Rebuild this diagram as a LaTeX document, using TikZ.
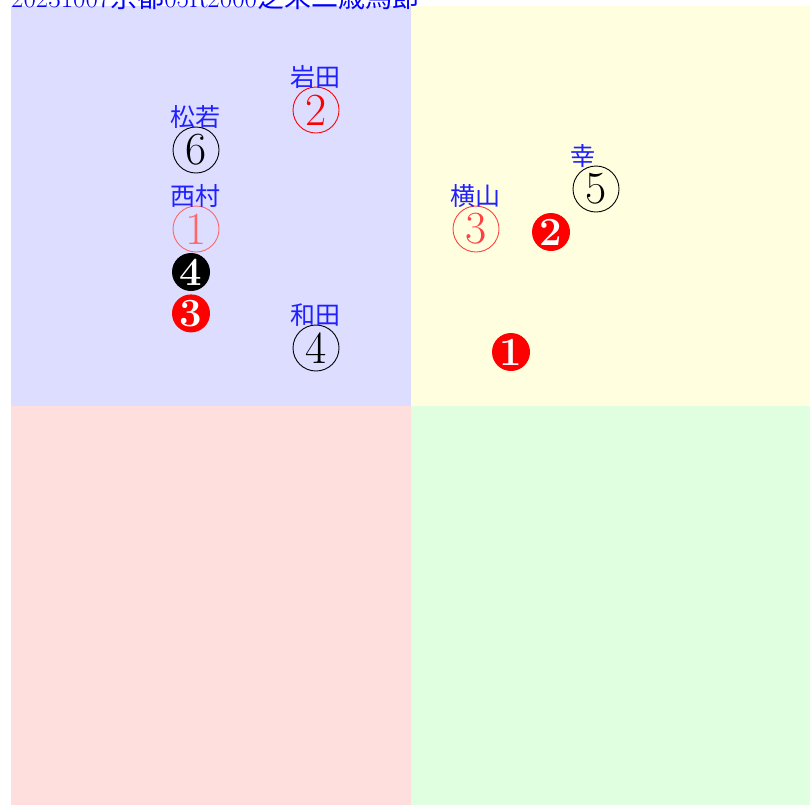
\documentclass[tikz,border=0pt]{standalone}
\usepackage{fontspec}
\newfontfamily\jpfont{Noto Sans CJK JP}
\usepackage{xcolor}
\usepackage{tikz}
\usetikzlibrary{positioning, calc}
\definecolor{quadblue}{HTML}{DDDDFF}
\definecolor{quadyellow}{HTML}{FFFFE0}
\definecolor{quadred}{HTML}{FFDEDE}
\definecolor{quadgreen}{HTML}{E0FFE0}
\definecolor{pinkred}{HTML}{FF6666}
\definecolor{midred}{HTML}{FF4040}
\definecolor{namecolor}{HTML}{2020FF}

\begin{document}
\begin{tikzpicture}[
        x=1pt, y=-1pt,
        ring/.style={
            circle,
            draw=#1,
            text=#1,
            line width=0.9pt,
            minimum size=46pt,
            inner sep=0pt,
            font=\fontsize{46}{46}\selectfont
        },
        disc/.style={
            circle,
            fill=#1,
            text=white,
            minimum size=38pt,
            inner sep=0pt,
            font=\fontsize{40}{40}\selectfont\bfseries
        },
        jockey/.style={anchor=base west, inner sep=0pt, text=namecolor, font=\jpfont\fontsize{25}{25}\selectfont}
    ]
        \useasboundingbox (0,0) rectangle (810,804);

        % Quadrants
        \fill[quadblue] (11,6) rectangle (411,406);
        \fill[quadyellow] (411,6) rectangle (811,406);
        \fill[quadred] (11,406) rectangle (411,806);
        \fill[quadgreen] (411,406) rectangle (811,806);

        % Title
        \node[anchor=base west, inner sep=0pt, text=blue, font=\fontsize{27}{27}\selectfont] (title) at (11,7)
            {20231007{\jpfont 京都}05R2000{\jpfont 芝未二歳馬節}};

        % Horses
        \node[ring=red] (h2) at (316,110) {2};
        \node[ring=black] (h6) at (196,150) {6};
        \node[ring=pinkred] (h1) at (196,229) {1};
        \node[ring=black] (h4) at (316,348) {4};
        \node[ring=midred] (h3) at (476,229) {3};
        \node[ring=black] (h5) at (596,189) {5};

        % Jockeys
        \node[jockey] (iwata) at ([xshift=-26pt, yshift=0pt]h2.north) {岩田};
        \node[jockey] (matsuwaka) at ([xshift=-26pt, yshift=0pt]h6.north) {松若};
        \node[jockey] (nishimura) at ([xshift=-26pt, yshift=0pt]h1.north) {西村};
        \node[jockey] (wada) at ([xshift=-26pt, yshift=0pt]h4.north) {和田};
        \node[jockey] (yokoyama) at ([xshift=-26pt, yshift=0pt]h3.north) {横山};
        \node[jockey] (miyuki) at ([xshift=-26pt, yshift=0pt]h5.north) {幸};

        % Marks
        \node[disc=black] (m4) at (191,272) {4};
        \node[disc=red, below=3pt of m4] (m3) {3};
        \node[disc=red] (m2) at (551,232) {2};
        \node[disc=red] (m1) at (511,352) {1};

    \end{tikzpicture}
\end{document}
